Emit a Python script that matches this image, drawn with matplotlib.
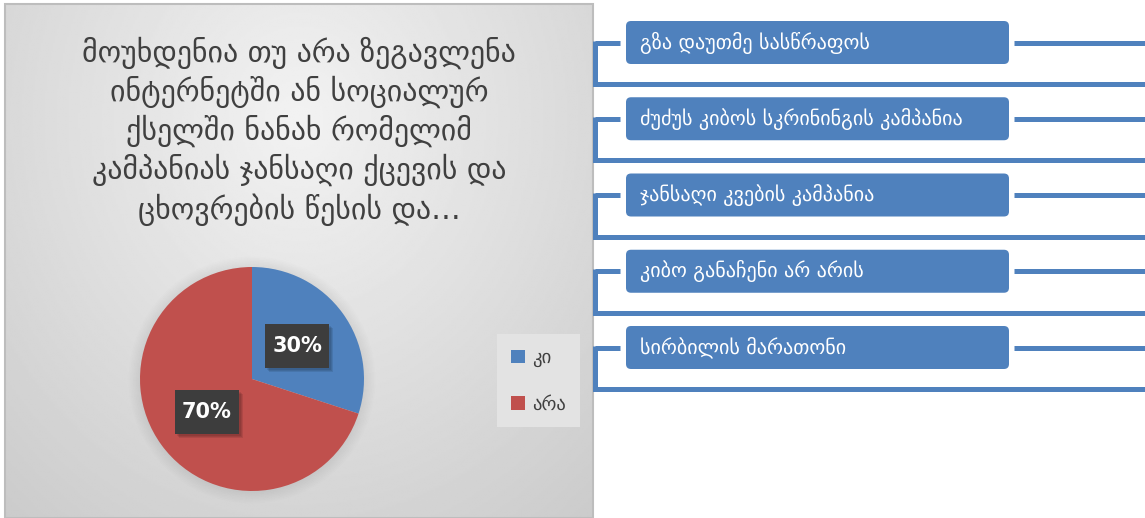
import numpy as np
import matplotlib
matplotlib.use("Agg")
import matplotlib.pyplot as plt
from matplotlib.patches import FancyBboxPatch, Rectangle, Circle

# data
categories = ["კი", "არა"]
shares = [30, 70]
colors = ["#4F81BD", "#C0504D"]
title = ("მოუხდენია თუ არა ზეგავლენა\nინტერნეტში ან სოციალურ\n"
         "ქსელში ნანახ რომელიმ\nკამპანიას ჯანსაღი ქცევის და\n"
         "ცხოვრების წესის და…")
campaigns = ["გზა დაუთმე სასწრაფოს",
             "ძუძუს კიბოს სკრინინგის კამპანია",
             "ჯანსაღი კვების კამპანია",
             "კიბო განაჩენი არ არის",
             "სირბილის მარათონი"]

W, H = 1145, 518
blue = "#4F81BD"


def Y(y):
    # pixel rows count from the top
    return H - y


fig = plt.figure(figsize=(W / 100, H / 100), dpi=100)
ax = fig.add_axes([0, 0, 1, 1])

# grey gradient panel behind the pie
px0, px1, py0, py1 = 5, 593, 4, 518
gx, gy = np.meshgrid(np.linspace(px0, px1, 300), np.linspace(py0, py1, 300))
d = np.sqrt(((gx - 300) / 420) ** 2 + ((gy - 120) / 480) ** 2)
shade = 0.95 - 0.17 * np.clip(d, 0, 1.2) / 1.2
ax.imshow(shade, cmap="gray", vmin=0, vmax=1, extent=(px0, px1, Y(py1), Y(py0)),
          origin="upper", zorder=0, interpolation="bilinear")
ax.add_patch(Rectangle((px0, Y(py1)), px1 - px0, py1 - py0, fill=False,
                       ec="#bdbdbd", lw=1.5, zorder=1))

ax.text(299, Y(131), title, ha="center", va="center", fontsize=21.5,
        color="#404040", linespacing=1.27, zorder=3)

# soft shadow under the pie
cx, cy, r = 252, Y(379), 112
for k in range(8):
    ax.add_patch(Circle((cx, cy - 1), r + 1 + k * 1.5, color="black",
                        alpha=0.008, lw=0, zorder=1))

wedges, _, autotexts = ax.pie(shares, colors=colors, startangle=90,
                              counterclock=False, center=(cx, cy), radius=r,
                              autopct="%d%%", pctdistance=0.5, frame=True,
                              wedgeprops=dict(linewidth=0, zorder=2))
for t in autotexts:
    t.set_color("white")
    t.set_fontsize(15)
    t.set_fontweight("bold")
    t.set_zorder(6)
    x, y = t.get_position()
    for k in range(3):
        ax.add_patch(Rectangle((x - 32 + 2 + k, y - 22 - 2 - k), 64, 44,
                               color="black", alpha=0.09, lw=0, zorder=4))
    ax.add_patch(Rectangle((x - 32, y - 22), 64, 44, color="#3d3d3d",
                           lw=0, zorder=5))

leg = ax.legend(wedges, categories, loc="upper left",
                bbox_to_anchor=(497, Y(334)), bbox_transform=ax.transData,
                borderaxespad=0, frameon=True, fancybox=False, fontsize=13.5,
                handlelength=0.75, handleheight=0.75, handletextpad=0.35,
                labelspacing=1.45, borderpad=0.75, labelcolor="#404040")
leg.get_frame().set_facecolor("#e3e3e3")
leg.get_frame().set_edgecolor("none")
leg.get_frame().set_alpha(1)
leg.set_zorder(7)

# campaign boxes with bracket connectors
lw = 3.6
for i, name in enumerate(campaigns):
    top = 21 + 76.25 * i
    mid = top + 21.5
    low = top + 63
    ax.add_patch(FancyBboxPatch((626, Y(top + 43)), 383, 43,
                                boxstyle="round,pad=0,rounding_size=5",
                                fc=blue, ec="none", zorder=3))
    ax.text(640, Y(mid), name, ha="left", va="center", fontsize=14.5,
            color="white", zorder=4)
    ax.plot([595, 620], [Y(mid), Y(mid)], color=blue, lw=lw,
            solid_capstyle="butt", zorder=2)
    ax.plot([595, 595, W], [Y(mid) + 1.8, Y(low), Y(low)], color=blue, lw=lw,
            solid_capstyle="butt", solid_joinstyle="miter", zorder=2)
    ax.plot([1014, W], [Y(mid), Y(mid)], color=blue, lw=lw,
            solid_capstyle="butt", zorder=2)

ax.set_xlim(0, W)
ax.set_ylim(0, H)
ax.set_aspect("auto")
ax.axis("off")

fig.savefig("out.png", dpi=100, facecolor="white")
